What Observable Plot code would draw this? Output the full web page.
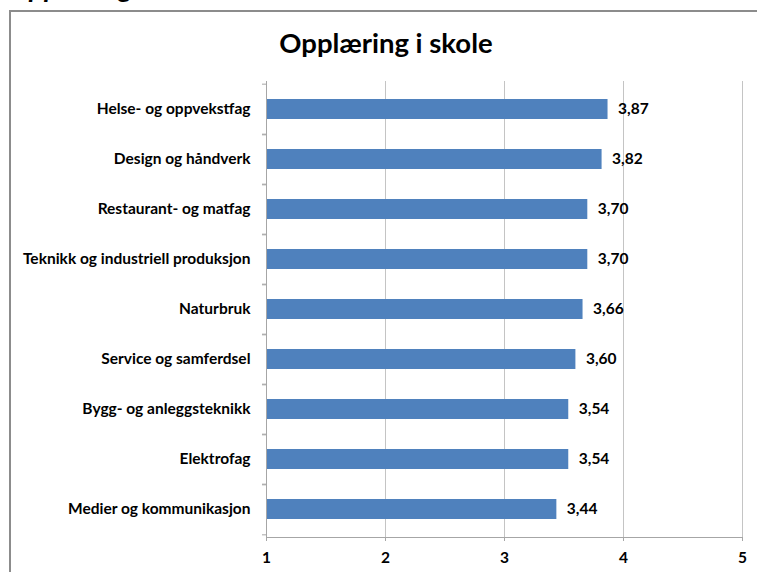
<!DOCTYPE html>
<html><head><meta charset="utf-8">
<script src="https://cdn.jsdelivr.net/npm/d3@7"></script>
<script src="https://cdn.jsdelivr.net/npm/@observablehq/plot@0.6"></script>
<style>
html,body{margin:0;padding:0;background:#fff;overflow:hidden;}
#wrap{position:relative;width:757px;height:572px;overflow:hidden;font-family:Lato,"Open Sans",sans-serif;color:#000;}
#cut{position:absolute;left:8px;top:-28px;font-size:28px;line-height:28px;font-weight:bold;font-style:italic;white-space:nowrap;}
#frame{position:absolute;left:9px;top:10px;width:800px;height:620px;border:2px solid #8c8c8c;box-sizing:border-box;}
#title{position:absolute;left:0;width:772px;top:27px;text-align:center;font-size:27.5px;font-weight:bold;line-height:32px;}
#chart{position:absolute;left:0;top:0;}
</style></head>
<body><div id="wrap"><div id="cut">Opplæring i skole</div><div id="frame"></div><div id="title">Opplæring i skole</div><div id="chart"></div></div>
<script>
const categories = [
  "Helse- og oppvekstfag",
  "Design og håndverk",
  "Restaurant- og matfag",
  "Teknikk og industriell produksjon",
  "Naturbruk",
  "Service og samferdsel",
  "Bygg- og anleggsteknikk",
  "Elektrofag",
  "Medier og kommunikasjon"
];
const values = [3.87, 3.82, 3.70, 3.70, 3.66, 3.60, 3.54, 3.54, 3.44];
const xTicks = [1, 2, 3, 4, 5];

const data = categories.map((c, i) => ({category: c, value: values[i]}));
const W = 757, H = 572, mT = 81, mB = 35;
const step = (H - mT - mB) / categories.length;
const axisColor = "#a6a6a6";

const chart = Plot.plot({
  width: W, height: H,
  marginLeft: 266, marginRight: 15, marginTop: mT, marginBottom: mB,
  style: {fontFamily: "Lato, 'Open Sans', sans-serif", fontSize: "15.5px", fontWeight: "bold", color: "#000", background: "transparent", overflow: "visible"},
  x: {domain: [xTicks[0], xTicks[xTicks.length - 1]], label: null},
  y: {domain: categories, paddingInner: 0.6, paddingOuter: 0.3, label: null},
  marks: [
    Plot.gridX(xTicks.slice(1), {stroke: "#c4c4c4", strokeOpacity: 1}),
    Plot.barX(data, {y: "category", x1: xTicks[0], x2: "value", fill: "#4f81bd"}),
    Plot.text(data, {y: "category", x: "value", text: d => d.value.toFixed(2).replace(".", ","), textAnchor: "start", dx: 10, fill: "#000"}),
    Plot.ruleX([xTicks[0]], {stroke: axisColor}),
    Plot.frame({anchor: "bottom", stroke: axisColor}),
    Plot.axisX({ticks: xTicks, tickSize: 4, tickPadding: 10, stroke: axisColor, fill: "#000", tickFormat: d3.format("d"), label: null}),
    Plot.axisY({tickSize: 0, tickPadding: 16, fill: "#000", label: null}),
    Plot.axisY({tickSize: 4, tickFormat: () => "", dy: -step / 2, stroke: axisColor, label: null}),
    Plot.axisY({tickSize: 4, tickFormat: () => "", dy: step / 2, stroke: axisColor, label: null})
  ]
});
document.getElementById("chart").appendChild(chart);
</script>
</body></html>
